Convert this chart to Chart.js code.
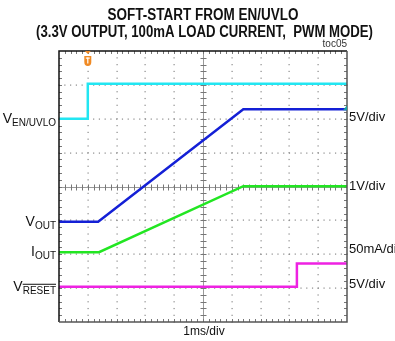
<!DOCTYPE html>
<html>
<head>
<meta charset="utf-8">
<script src="https://cdn.jsdelivr.net/npm/chart.js@4.4.1/dist/chart.umd.min.js"></script>
<style>
  html, body { margin: 0; padding: 0; background: #fff; }
  #wrap { width: 395px; height: 341px; }
</style>
</head>
<body>
<div id="wrap"><canvas id="scope" width="395" height="341"></canvas></div>
<script>
// Scope capture, in screen divisions: 10 horizontal (1ms/div), 8 vertical.
const titleLines = ['SOFT-START FROM EN/UVLO', '(3.3V OUTPUT, 100mA LOAD CURRENT,  PWM MODE)'];
const titleWidths = [191, 337];
const figureTag = 'toc05';
const timeLabel = '1ms/div';

// EN/UVLO input (cyan)
const enTime = [0, 1.0, 1.0, 10];
const enLevel = [6.0, 6.0, 7.03, 7.03];
// Output voltage (blue)
const voutTime = [0, 1.36, 6.4, 10];
const voutLevel = [2.96, 2.96, 6.28, 6.28];
// Output current (green)
const ioutTime = [0, 1.39, 6.4, 10];
const ioutLevel = [2.06, 2.06, 4.01, 4.01];
// RESET output (magenta)
const resetTime = [0, 8.26, 8.26, 10];
const resetLevel = [1.04, 1.04, 1.73, 1.73];

// Channel scale labels on the right: text and vertical position (divisions)
const scaleText = ['5V/div', '1V/div', '50mA/div', '5V/div'];
const scaleLevel = [6.05, 3.99, 2.13, 1.10];

// Channel names on the left: main letter, subscript, level, overline on subscript
const chanMain = ['V', 'V', 'I', 'V'];
const chanSub = ['EN/UVLO', 'OUT', 'OUT', 'RESET'];
const chanLevel = [6.0, 2.96, 2.06, 1.04];
const chanBar = [false, false, false, true];

const colors = { en: '#22e6f2', vout: '#1420d6', iout: '#22e622', reset: '#ee22e2' };

function pts(xs, ys) { return xs.map((x, i) => ({ x: x, y: ys[i] })); }

const FONT = '"Liberation Sans", Arial, sans-serif';

// draw text squeezed horizontally to a given width, centred on cx
function condensedText(ctx, text, cx, y, width) {
  const w = ctx.measureText(text).width;
  const k = Math.min(1, width / w);
  ctx.save();
  ctx.translate(cx, y);
  ctx.scale(k, 1);
  ctx.textAlign = 'center';
  ctx.fillText(text, 0, 0);
  ctx.restore();
}

const scopePlugin = {
  id: 'scopeDecor',
  beforeDatasetsDraw(chart) {
    const ctx = chart.ctx;
    const xs = chart.scales.x, ys = chart.scales.y;
    const a = chart.chartArea;
    ctx.save();
    // dotted grid: dots every 0.2 division on each major line
    ctx.fillStyle = '#8a8a8a';
    for (let i = 1; i < 10; i++) {
      if (i === 5) continue;
      const px = Math.round(xs.getPixelForValue(i));
      for (let j = 0; j <= 40; j++) {
        const py = ys.getPixelForValue(j * 0.2);
        ctx.fillRect(px - 0.5, py - 0.5, 1.2, 1.2);
      }
    }
    for (let i = 1; i < 8; i++) {
      if (i === 4) continue;
      const py = Math.round(ys.getPixelForValue(i));
      for (let j = 0; j <= 50; j++) {
        const px = xs.getPixelForValue(j * 0.2);
        ctx.fillRect(px - 0.5, py - 0.5, 1.2, 1.2);
      }
    }
    // center cross with minor ticks
    const cx = Math.round(xs.getPixelForValue(5)) + 0.5;
    const cy = Math.round(ys.getPixelForValue(4)) + 0.5;
    ctx.strokeStyle = '#9a9a9a';
    ctx.lineWidth = 1;
    ctx.beginPath();
    ctx.moveTo(a.left, cy); ctx.lineTo(a.right, cy);
    ctx.moveTo(cx, a.top); ctx.lineTo(cx, a.bottom);
    ctx.stroke();
    ctx.strokeStyle = '#777';
    ctx.beginPath();
    for (let j = 1; j < 50; j++) {
      const px = Math.round(xs.getPixelForValue(j * 0.2)) + 0.5;
      ctx.moveTo(px, cy - 3); ctx.lineTo(px, cy + 3);
      ctx.moveTo(px, a.top); ctx.lineTo(px, a.top + 3);
      ctx.moveTo(px, a.bottom); ctx.lineTo(px, a.bottom - 3);
    }
    for (let j = 1; j < 40; j++) {
      const py = Math.round(ys.getPixelForValue(j * 0.2)) + 0.5;
      ctx.moveTo(cx - 3, py); ctx.lineTo(cx + 3, py);
      ctx.moveTo(a.left, py); ctx.lineTo(a.left + 3, py);
      ctx.moveTo(a.right, py); ctx.lineTo(a.right - 3, py);
    }
    ctx.stroke();
    ctx.restore();
  },
  afterDatasetsDraw(chart) {
    const ctx = chart.ctx;
    const xs = chart.scales.x, ys = chart.scales.y;
    const a = chart.chartArea;
    ctx.save();
    // frame
    ctx.lineWidth = 1.5;
    ctx.strokeStyle = '#111';
    ctx.beginPath();
    ctx.moveTo(a.left, a.bottom); ctx.lineTo(a.left, a.top); ctx.lineTo(a.right, a.top);
    ctx.stroke();
    ctx.strokeStyle = '#555';
    ctx.beginPath();
    ctx.moveTo(a.right, a.top); ctx.lineTo(a.right, a.bottom); ctx.lineTo(a.left, a.bottom);
    ctx.stroke();

    // trigger marker
    const tx = xs.getPixelForValue(enTime[1]);
    ctx.fillStyle = '#f08a24';
    ctx.beginPath();
    ctx.moveTo(tx - 3, a.top); ctx.lineTo(tx + 3, a.top); ctx.lineTo(tx, a.top + 3); ctx.closePath();
    ctx.fill();
    ctx.beginPath();
    ctx.moveTo(tx - 3.5, a.top + 5);
    ctx.lineTo(tx + 3.5, a.top + 5);
    ctx.lineTo(tx + 3.5, a.top + 11);
    ctx.quadraticCurveTo(tx + 3.5, a.top + 15, tx, a.top + 15);
    ctx.quadraticCurveTo(tx - 3.5, a.top + 15, tx - 3.5, a.top + 11);
    ctx.closePath();
    ctx.fill();
    ctx.fillStyle = '#fff';
    ctx.fillRect(tx - 2, a.top + 6.5, 4, 1.2);
    ctx.fillRect(tx - 0.6, a.top + 6.5, 1.2, 6);

    // channel marker at right end of output voltage
    const my = ys.getPixelForValue(voutLevel[3]);
    ctx.fillStyle = '#1aa0a0';
    ctx.beginPath();
    ctx.moveTo(a.right, my - 4); ctx.lineTo(a.right, my + 1); ctx.lineTo(a.right - 4, my + 1); ctx.closePath();
    ctx.fill();

    // title
    ctx.fillStyle = '#111';
    ctx.textBaseline = 'alphabetic';
    ctx.font = 'bold 16px ' + FONT;
    condensedText(ctx, titleLines[0], 203, 20, titleWidths[0]);
    condensedText(ctx, titleLines[1], 204.5, 37, titleWidths[1]);

    // figure tag
    ctx.font = '10px ' + FONT;
    ctx.textAlign = 'right';
    ctx.fillStyle = '#333';
    ctx.fillText(figureTag, a.right, 47);

    // time base
    ctx.font = '12px ' + FONT;
    ctx.textAlign = 'center';
    ctx.fillStyle = '#111';
    ctx.fillText(timeLabel, 204, 335);

    // scale labels
    ctx.textAlign = 'left';
    ctx.textBaseline = 'middle';
    ctx.font = '13px ' + FONT;
    scaleText.forEach((t, i) => {
      ctx.fillText(t, a.right + 2, ys.getPixelForValue(scaleLevel[i]));
    });

    // channel names
    ctx.textBaseline = 'alphabetic';
    chanMain.forEach((m, i) => {
      const base = ys.getPixelForValue(chanLevel[i]);
      const right = a.left - 3;
      ctx.font = '10px ' + FONT;
      const sw = ctx.measureText(chanSub[i]).width;
      ctx.font = '14px ' + FONT;
      const mw = ctx.measureText(m).width;
      const x0 = right - sw - mw;
      ctx.fillText(m, x0, base + 4);
      ctx.font = '10px ' + FONT;
      ctx.fillText(chanSub[i], x0 + mw, base + 7);
      if (chanBar[i]) {
        ctx.fillRect(x0 + mw, base - 3, sw, 1);
      }
    });
    ctx.restore();
  }
};

function ds(xs, ys, color) {
  return { data: pts(xs, ys), borderColor: color, borderWidth: 2.5, pointRadius: 0, tension: 0, fill: false };
}

new Chart(document.getElementById('scope'), {
  type: 'line',
  data: {
    datasets: [
      ds(enTime, enLevel, colors.en),
      ds(voutTime, voutLevel, colors.vout),
      ds(ioutTime, ioutLevel, colors.iout),
      ds(resetTime, resetLevel, colors.reset)
    ]
  },
  options: {
    responsive: false,
    animation: false,
    layout: { padding: { left: 59, right: 48, top: 51, bottom: 19 } },
    plugins: { legend: { display: false }, tooltip: { enabled: false }, title: { display: false } },
    scales: {
      x: { type: 'linear', min: 0, max: 10, display: false },
      y: { type: 'linear', min: 0, max: 8, display: false }
    }
  },
  plugins: [scopePlugin]
});
</script>
</body>
</html>
